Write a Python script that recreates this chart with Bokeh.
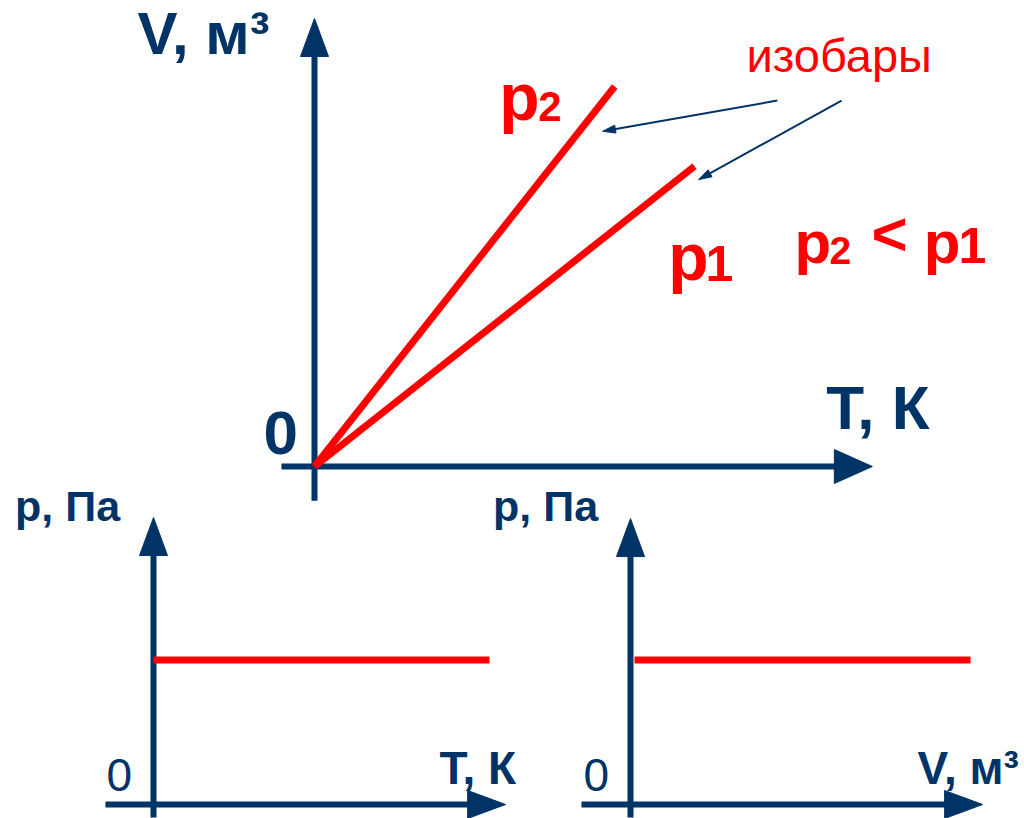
import numpy as np
from bokeh.plotting import figure
from bokeh.models import Range1d
from bokeh.embed import file_html
from bokeh.resources import INLINE
from bokeh.core.properties import value

# ---------------- data ----------------
# main panel: V(T) isobars
iso_p1_T = [0.0, 10.0]
iso_p1_V = [0.0, 7.9]
iso_p2_T = [0.0, 7.9]
iso_p2_V = [0.0, 10.0]
# bottom-left panel: p(T) isobar
pT_T = [0.0, 10.0]
pT_p = [4.3, 4.3]
# bottom-right panel: p(V) isobar
pV_V = [0.12, 10.12]
pV_p = [4.3, 4.3]

# axis extents (start, tip) in panel units
main_T_axis = [-0.87, 14.68]
main_V_axis = [-0.90, 11.79]
pT_T_axis = [-1.43, 10.48]
pT_p_axis = [-0.39, 8.54]
pV_V_axis = [-1.46, 10.48]
pV_p_axis = [-0.39, 8.51]

# labels
main_labels = ["V, м³", "0", "T, К"]
bottom_y_label = "p, Па"
annot_text = "изобары"
relation = ["p", "2", "<", "p", "1"]

# ---------------- layout ----------------
W, H = 1024, 818
OFF = 0
NAVY = "#003366"
RED = "#ff0000"
FONT = "Liberation Sans"
BASE_FIX = 0.39  # em, lifts text so its baseline sits on y

# panel name -> (origin page x, origin page y, pixels per unit)
PANELS = {
    "default": (314, 466, 38.0),
    "bl": (153, 804, 33.6),
    "br": (630, 804, 33.6),
}


def ranges(name):
    ox, oy, u = PANELS[name]
    xr = Range1d((OFF - ox) / u, (OFF + W - ox) / u)
    yr = Range1d((oy - (OFF + H)) / u, (oy - OFF) / u)
    return xr, yr


mx, my = ranges("default")
p = figure(width=W, height=H, x_range=mx, y_range=my,
           output_backend="svg", toolbar_location=None,
           x_axis_location=None, y_axis_location=None,
           min_border=0, outline_line_color=None,
           background_fill_color="white", border_fill_color="white")
p.xgrid.visible = False
p.ygrid.visible = False
for nm in ("bl", "br"):
    xr, yr = ranges(nm)
    p.extra_x_ranges[nm] = xr
    p.extra_y_ranges[nm] = yr


def kw(panel):
    return dict(x_range_name=panel, y_range_name=panel)


def head(panel, tip, direction, length_px, width_px, color):
    u = PANELS[panel][2]
    d = np.array(direction, dtype=float)
    d = d / np.hypot(*d)
    n = np.array([-d[1], d[0]])
    tip = np.array(tip, dtype=float)
    base = tip - d * length_px / u
    a = base + n * width_px / (2 * u)
    b = base - n * width_px / (2 * u)
    p.patch([tip[0], a[0], b[0]], [tip[1], a[1], b[1]],
            fill_color=color, line_color=color, line_width=1, **kw(panel))


def arrow_line(panel, start, tip, lw, color, length_px, width_px):
    u = PANELS[panel][2]
    s = np.array(start, dtype=float)
    t = np.array(tip, dtype=float)
    d = (t - s) / np.hypot(*(t - s))
    end = t - d * (length_px * 0.7) / u
    p.line([s[0], end[0]], [s[1], end[1]], line_color=color, line_width=lw,
           line_cap="butt", **kw(panel))
    head(panel, tip, d, length_px, width_px, color)


def axes(panel, xa, ya, hw_x, hw_y):
    arrow_line(panel, (xa[0], 0), (xa[1], 0), 6, NAVY, 38, hw_x)
    arrow_line(panel, (0, ya[0]), (0, ya[1]), 6, NAVY, 38, hw_y)


def label(panel, x, y, txt, size, color, bold=True, lift_px=0):
    u = PANELS[panel][2]
    p.text(x=[x], y=[y + (BASE_FIX * size + lift_px) / u], text=[txt],
           text_font=value(FONT),
           text_font_size=f"{size}px",
           text_font_style="bold" if bold else "normal",
           text_color=color, text_align="left", text_baseline="alphabetic",
           **kw(panel))


# ---------------- main panel ----------------
axes("default", main_T_axis, main_V_axis, 34, 28)
p.line(iso_p2_T, iso_p2_V, line_color=RED, line_width=7, line_cap="butt")
p.line(iso_p1_T, iso_p1_V, line_color=RED, line_width=7, line_cap="butt")

label("default", -4.66, 10.79, main_labels[0], 60, NAVY)
label("default", -1.34, 0.24, main_labels[1], 62, NAVY)
label("default", 13.47, 0.87, main_labels[2], 62, NAVY, lift_px=2)

label("default", 11.37, 10.34, annot_text, 47, RED, bold=False)
# annotation arrows
arrow_line("default", (12.18, 9.63), (7.58, 8.82), 2, NAVY, 13, 8)
arrow_line("default", (13.87, 9.63), (10.11, 7.55), 2, NAVY, 13, 8)

# isobar names
label("default", 4.86, 9.05, "p", 66, RED)
label("default", 5.89, 9.05, "2", 42, RED)
label("default", 9.31, 4.84, "p", 66, RED)
label("default", 10.29, 4.84, "1", 50, RED)

# p2 < p1
rel_x = [12.63, 13.55, 14.66, 16.03, 16.95]
rel_sz = [60, 39, 62, 60, 50]
rel_lift = [0, 0, 8, 0, 0]
for t, xx, sz, lf in zip(relation, rel_x, rel_sz, rel_lift):
    label("default", xx, 5.29, t, sz, RED, lift_px=lf)

# ---------------- bottom-left panel p(T) ----------------
axes("bl", pT_T_axis, pT_p_axis, 28, 28)
p.line(pT_T, pT_p, line_color=RED, line_width=7, line_cap="butt", **kw("bl"))
label("bl", -4.12, 8.39, bottom_y_label, 43, NAVY)
label("bl", -1.40, 0.33, "0", 46, NAVY, bold=False)
label("bl", 8.51, 0.565, "T, К", 46, NAVY)

# ---------------- bottom-right panel p(V) ----------------
axes("br", pV_V_axis, pV_p_axis, 28, 28)
p.line(pV_V, pV_p, line_color=RED, line_width=7, line_cap="butt", **kw("br"))
label("br", -4.09, 8.39, bottom_y_label, 43, NAVY)
label("br", -1.40, 0.33, "0", 46, NAVY, bold=False)
label("br", 8.54, 0.565, "V, м³", 46, NAVY)

open("out.html", "w").write(file_html(p, INLINE))
